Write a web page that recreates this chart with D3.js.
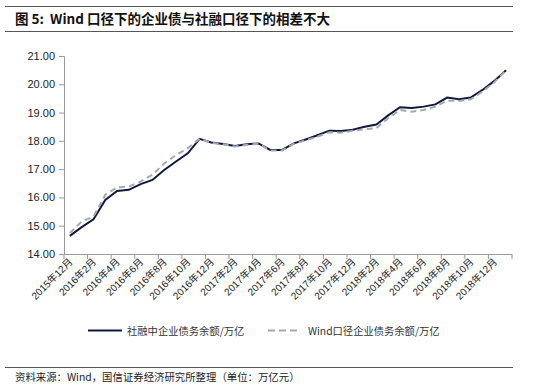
<!DOCTYPE html>
<html>
<head>
<meta charset="utf-8">
<script src="https://cdn.jsdelivr.net/npm/d3@7"></script>
<style>
  body { margin: 0; background: #fff; }
  svg { display: block; }
</style>
</head>
<body>
<svg id="chart" width="550" height="384"></svg>
<script>
// months, 2015-12 .. 2019-01
const months = [
  "2015年12月", "2016年1月", "2016年2月", "2016年3月", "2016年4月", "2016年5月",
  "2016年6月", "2016年7月", "2016年8月", "2016年9月", "2016年10月", "2016年11月",
  "2016年12月", "2017年1月", "2017年2月", "2017年3月", "2017年4月", "2017年5月",
  "2017年6月", "2017年7月", "2017年8月", "2017年9月", "2017年10月", "2017年11月",
  "2017年12月", "2018年1月", "2018年2月", "2018年3月", "2018年4月", "2018年5月",
  "2018年6月", "2018年7月", "2018年8月", "2018年9月", "2018年10月", "2018年11月",
  "2018年12月", "2019年1月"
];

// 社融中企业债务余额/万亿
const tsfBonds = [
  14.64, 14.95, 15.23, 15.91, 16.23, 16.27, 16.47, 16.62, 16.97, 17.27,
  17.56, 18.07, 17.94, 17.89, 17.82, 17.88, 17.91, 17.68, 17.68, 17.91,
  18.05, 18.20, 18.36, 18.35, 18.39, 18.50, 18.58, 18.90, 19.19, 19.16,
  19.21, 19.29, 19.53, 19.47, 19.53, 19.80, 20.12, 20.50
];

// Wind口径企业债务余额/万亿
const windBonds = [
  14.74, 15.15, 15.32, 16.09, 16.36, 16.38, 16.56, 16.80, 17.20, 17.50,
  17.74, 18.08, 17.93, 17.88, 17.80, 17.86, 17.90, 17.66, 17.66, 17.90,
  18.02, 18.15, 18.30, 18.29, 18.36, 18.41, 18.45, 18.80, 19.09, 19.03,
  19.09, 19.21, 19.42, 19.41, 19.47, 19.74, 20.07, 20.50
];

const yTicks = [14, 15, 16, 17, 18, 19, 20, 21];

const svg = d3.select("#chart");
const plotLeft = 64, plotRight = 512, plotTop = 56, plotBottom = 254;

// title bar
svg.append("line").attr("x1", 5).attr("x2", 513).attr("y1", 6.5).attr("y2", 6.5)
  .attr("stroke", "#555").attr("stroke-width", 1);
svg.append("line").attr("x1", 5).attr("x2", 513).attr("y1", 31.5).attr("y2", 31.5)
  .attr("stroke", "#555").attr("stroke-width", 1);
svg.append("text")
  .attr("x", 15).attr("y", 23.5)
  .attr("font-family", "'Noto Sans CJK SC', sans-serif")
  .attr("font-size", 13.5).attr("font-weight", "bold").attr("fill", "#111")
  .text("图 5:\u00a0 Wind 口径下的企业债与社融口径下的相差不大");

const x = d3.scaleBand().domain(months).range([plotLeft, plotRight]).padding(0);
const y = d3.scaleLinear().domain([14, 21]).range([plotBottom, plotTop]);

// y axis
const yAxis = svg.append("g")
  .attr("transform", `translate(${plotLeft},0)`)
  .call(d3.axisLeft(y).tickValues(yTicks).tickFormat(d3.format(".2f")).tickSize(5).tickPadding(4));
yAxis.select(".domain").attr("stroke", "#999");
yAxis.selectAll(".tick line").attr("stroke", "#999");
yAxis.selectAll("text")
  .attr("font-family", "'Liberation Sans', Arial, sans-serif")
  .attr("font-size", 11).attr("fill", "#222");

// x axis (ticks at band edges, every 2 months)
const xg = svg.append("g");
xg.append("line").attr("x1", plotLeft).attr("x2", plotRight)
  .attr("y1", plotBottom + 0.5).attr("y2", plotBottom + 0.5).attr("stroke", "#999");
const tickIdx = d3.range(0, months.length + 1, 2);
xg.selectAll(".xt").data(tickIdx).join("line")
  .attr("x1", i => i < months.length ? x(months[i]) : plotRight)
  .attr("x2", i => i < months.length ? x(months[i]) : plotRight)
  .attr("y1", plotBottom).attr("y2", plotBottom + 5)
  .attr("stroke", "#999");

const labelMonths = months.filter((d, i) => i % 2 === 0);
xg.selectAll(".xl").data(labelMonths).join("text")
  .attr("transform", d => `translate(${x(d) + x.bandwidth() / 2 + 1},${plotBottom + 6}) rotate(-45)`)
  .attr("text-anchor", "end")
  .attr("dy", "0.35em")
  .attr("font-family", "'Liberation Sans', 'Noto Sans CJK SC', sans-serif")
  .attr("font-size", 10).attr("fill", "#222")
  .text(d => d);

const line = d3.line()
  .x((d, i) => x(months[i]) + x.bandwidth() / 2)
  .y(d => y(d));

svg.append("path").datum(tsfBonds)
  .attr("fill", "none").attr("stroke", "#0e1a3c").attr("stroke-width", 2)
  .attr("d", line);

svg.append("path").datum(windBonds)
  .attr("fill", "none").attr("stroke", "#a3a9b1").attr("stroke-width", 2)
  .attr("stroke-dasharray", "6,4")
  .attr("d", line);

// legend
const lg = svg.append("g").attr("font-family", "'Noto Sans CJK SC', sans-serif").attr("font-size", 10.3);
lg.append("line").attr("x1", 88).attr("x2", 122).attr("y1", 330.5).attr("y2", 330.5)
  .attr("stroke", "#0e1a3c").attr("stroke-width", 2);
lg.append("text").attr("x", 127).attr("y", 334.5).attr("fill", "#333").text("社融中企业债务余额/万亿");
lg.append("line").attr("x1", 268).attr("x2", 298).attr("y1", 330.5).attr("y2", 330.5)
  .attr("stroke", "#a3a9b1").attr("stroke-width", 2).attr("stroke-dasharray", "7,4");
lg.append("text").attr("x", 308).attr("y", 334.5).attr("fill", "#333").text("Wind口径企业债务余额/万亿");

// source footer
svg.append("line").attr("x1", 5).attr("x2", 513).attr("y1", 367.5).attr("y2", 367.5)
  .attr("stroke", "#555").attr("stroke-width", 1);
svg.append("text")
  .attr("x", 15).attr("y", 381)
  .attr("font-family", "'Noto Sans CJK SC', sans-serif")
  .attr("font-size", 10.4).attr("fill", "#222")
  .text("资料来源：Wind，国信证券经济研究所整理（单位：万亿元）");
</script>
</body>
</html>
